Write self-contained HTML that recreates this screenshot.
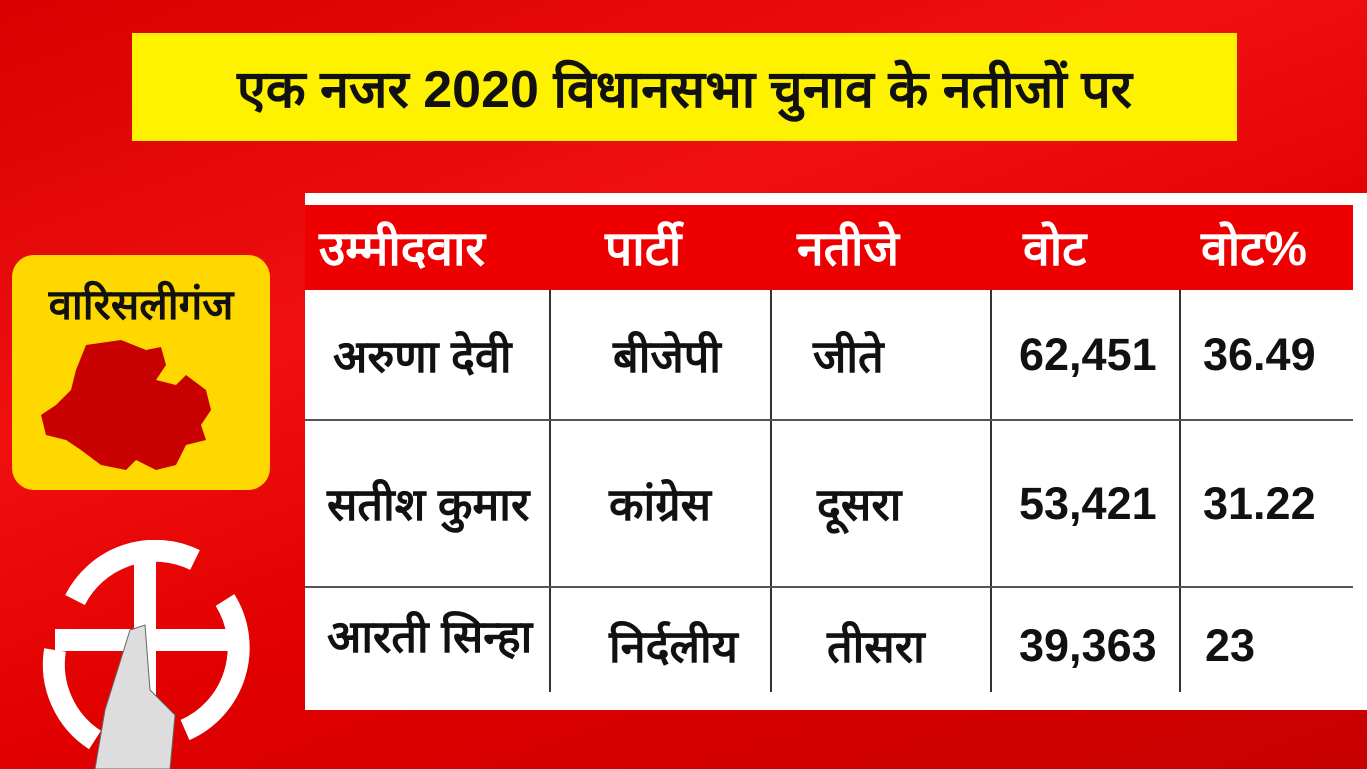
<!DOCTYPE html>
<html><head><meta charset="utf-8">
<style>
body{margin:0;width:1367px;height:769px;overflow:hidden;position:relative;
background:linear-gradient(160deg,#d80000 0%,#f01010 35%,#e00000 60%,#c80000 100%);
font-family:"Liberation Sans","DejaVu Sans",sans-serif;font-weight:bold;}
.banner{position:absolute;left:132px;top:33px;width:1105px;height:108px;background:#fff200;
display:flex;align-items:center;justify-content:center;font-size:52px;color:#111;}
.panel{position:absolute;left:305px;top:193px;width:1062px;height:517px;background:#fff;}
.head{position:absolute;left:0;top:12px;width:1048px;height:85px;background:#ee0000;}
.cell{position:absolute;display:flex;align-items:center;font-size:45px;color:#111;}
.h{color:#fff;font-size:48px;}
.vl{position:absolute;width:2px;background:#333;}
.hl{position:absolute;height:2px;background:#555;}
.ybox{position:absolute;left:12px;top:255px;width:258px;height:235px;background:#ffd800;border-radius:22px;}
</style></head><body>
<div class="banner">एक नजर 2020 विधानसभा चुनाव के नतीजों पर</div>

<div class="ybox">
<div style="position:absolute;left:0;right:0;top:20px;text-align:center;font-size:42px;color:#111;">वारिसलीगंज</div>
<svg style="position:absolute;left:14px;top:80px" width="200" height="140" viewBox="0 0 200 140">
<path d="M60 10 L95 5 L120 15 L135 12 L140 30 L130 45 L150 50 L160 40 L180 55 L185 75 L175 90 L180 105 L160 110 L150 130 L130 135 L110 125 L100 135 L75 130 L55 115 L40 105 L20 100 L15 80 L30 70 L45 55 L50 35 Z" fill="#c80000"/>
</svg>
</div>

<svg style="position:absolute;left:35px;top:540px" width="220" height="229" viewBox="0 0 220 229">
<g fill="none" stroke="#fff" stroke-width="22">
<path d="M40 60 A90 90 0 0 1 160 20"/>
<path d="M110 20 L110 190"/>
<path d="M20 100 L200 100"/>
<path d="M190 60 A90 90 0 0 1 150 190"/>
<path d="M20 110 A90 90 0 0 0 60 200"/>
</g>
<path d="M95 90 L110 85 L115 150 L140 175 L135 229 L60 229 L70 170 Z" fill="#ddd" stroke="#666"/>
</svg>

<div class="panel">
<div class="head"></div>
<div class="cell h" style="left:14px;top:12px;height:85px">उम्मीदवार</div>
<div class="cell h" style="left:300px;top:12px;height:85px">पार्टी</div>
<div class="cell h" style="left:492px;top:12px;height:85px">नतीजे</div>
<div class="cell h" style="left:718px;top:12px;height:85px">वोट</div>
<div class="cell h" style="left:896px;top:12px;height:85px">वोट%</div>

<div class="vl" style="left:244px;top:97px;height:402px"></div>
<div class="vl" style="left:465px;top:97px;height:402px"></div>
<div class="vl" style="left:685px;top:97px;height:402px"></div>
<div class="vl" style="left:874px;top:97px;height:402px"></div>
<div class="hl" style="left:0;top:226px;width:1048px"></div>
<div class="hl" style="left:0;top:393px;width:1048px"></div>

<div class="cell" style="left:28px;top:97px;height:130px">अरुणा देवी</div>
<div class="cell" style="left:308px;top:97px;height:130px">बीजेपी</div>
<div class="cell" style="left:508px;top:97px;height:130px">जीते</div>
<div class="cell" style="left:714px;top:97px;height:130px">62,451</div>
<div class="cell" style="left:898px;top:97px;height:130px">36.49</div>

<div class="cell" style="left:22px;top:228px;height:165px">सतीश कुमार</div>
<div class="cell" style="left:304px;top:228px;height:165px">कांग्रेस</div>
<div class="cell" style="left:512px;top:228px;height:165px">दूसरा</div>
<div class="cell" style="left:714px;top:228px;height:165px">53,421</div>
<div class="cell" style="left:898px;top:228px;height:165px">31.22</div>

<div class="cell" style="left:22px;top:395px;height:95px">आरती सिन्हा</div>
<div class="cell" style="left:304px;top:405px;height:95px">निर्दलीय</div>
<div class="cell" style="left:522px;top:405px;height:95px">तीसरा</div>
<div class="cell" style="left:714px;top:405px;height:95px">39,363</div>
<div class="cell" style="left:900px;top:405px;height:95px">23</div>
</div>
</body></html>
